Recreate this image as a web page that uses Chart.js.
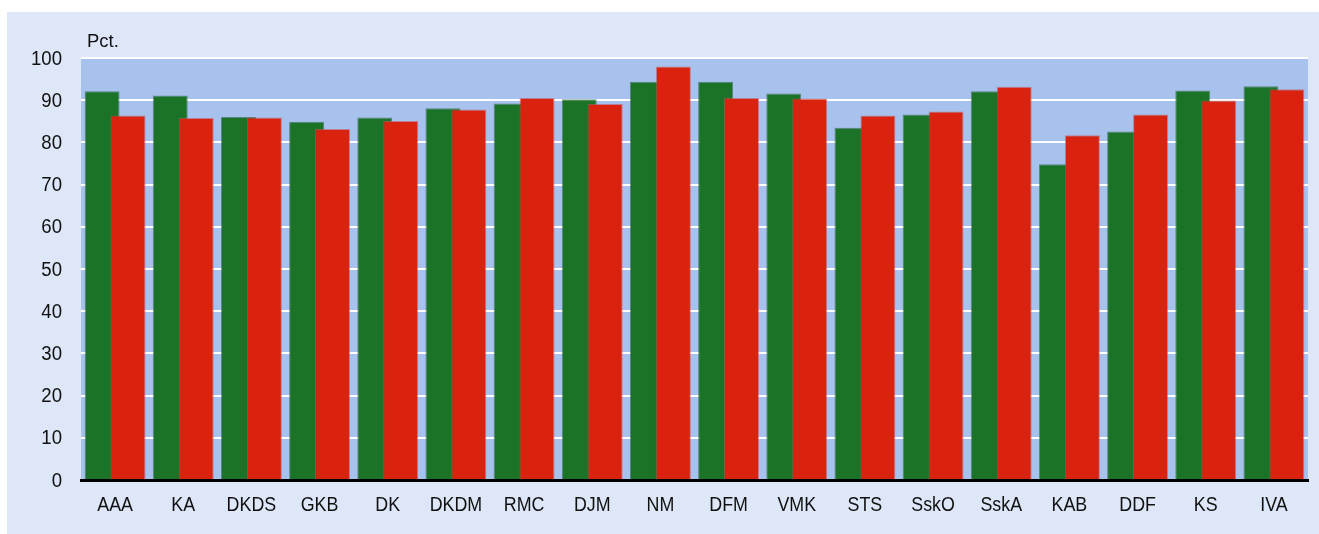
<!DOCTYPE html>
<html>
<head>
<meta charset="utf-8">
<script src="https://cdn.jsdelivr.net/npm/chart.js@4/dist/chart.umd.min.js"></script>
<style>
  html, body { margin: 0; padding: 0; background: #fff; }
  #wrap { position: relative; width: 1319px; height: 534px; }
</style>
</head>
<body>
<div id="wrap"><canvas id="barChart" width="1319" height="534"></canvas></div>
<script>
const categories = ["AAA", "KA", "DKDS", "GKB", "DK", "DKDM", "RMC", "DJM", "NM",
  "DFM", "VMK", "STS", "SskO", "SskA", "KAB", "DDF", "KS", "IVA"];
const greenValues = [92.1, 91.1, 86.0, 84.9, 85.9, 88.1, 89.2, 90.2, 94.4,
  94.4, 91.6, 83.5, 86.6, 92.1, 74.8, 82.6, 92.3, 93.3];
const redValues = [86.4, 85.8, 85.9, 83.2, 85.1, 87.8, 90.5, 89.1, 98.0,
  90.5, 90.4, 86.4, 87.3, 93.2, 81.7, 86.6, 89.9, 92.6];
const yTicks = [0, 10, 20, 30, 40, 50, 60, 70, 80, 90, 100];
const unitLabel = "Pct.";

const FONT = "'Liberation Sans', Arial, sans-serif";

// baggrund: lys ramme + mørkere plotområde
const backgroundPlugin = {
  id: "backgrounds",
  beforeDraw(chart) {
    const ctx = chart.ctx;
    const a = chart.chartArea;
    ctx.save();
    ctx.fillStyle = "#dee7f8";
    ctx.fillRect(7, 12, chart.width - 7, chart.height - 12);
    ctx.fillStyle = "#a7c2ed";
    ctx.fillRect(a.left, a.top, a.right - a.left, a.bottom - a.top);
    ctx.restore();
  },
};

// rød serie skal ligge oven på den grønne
const redOnTopPlugin = {
  id: "redOnTop",
  beforeDatasetDraw(chart, args) {
    if (args.index === 1) return false;
  },
  afterDatasetsDraw(chart) {
    const meta = chart.getDatasetMeta(1);
    if (meta.visible) meta.controller.draw();
  },
};

// smalle akseetiketter (tegnet med vandret skalering)
function narrowText(ctx, text, x, y, sx) {
  ctx.save();
  ctx.translate(x, y);
  ctx.scale(sx, 1);
  ctx.fillText(text, 0, 0);
  ctx.restore();
}

const labelPlugin = {
  id: "axisLabels",
  afterDraw(chart) {
    const ctx = chart.ctx;
    const xs = chart.scales.x;
    const ys = chart.scales.y;
    ctx.save();
    ctx.fillStyle = "#111";

    ctx.font = "20px " + FONT;
    ctx.textAlign = "right";
    ctx.textBaseline = "middle";
    yTicks.forEach((v) => {
      narrowText(ctx, String(v), 62, ys.getPixelForValue(v) + 1, 0.93);
    });

    ctx.font = "21px " + FONT;
    ctx.textAlign = "center";
    ctx.textBaseline = "alphabetic";
    categories.forEach((c, i) => {
      narrowText(ctx, c, xs.getPixelForValue(i), 511, 0.85);
    });

    ctx.font = "19px " + FONT;
    ctx.textAlign = "left";
    narrowText(ctx, unitLabel, 87, 47, 0.97);
    ctx.restore();
  },
};

const ctx = document.getElementById("barChart").getContext("2d");
new Chart(ctx, {
  type: "bar",
  data: {
    labels: categories,
    datasets: [
      {
        label: "Serie 1",
        data: greenValues,
        backgroundColor: "#1b7327",
        borderColor: "rgba(40,90,60,0.6)",
        borderWidth: 1,
        categoryPercentage: 0.762,
        barPercentage: 1.346,
      },
      {
        label: "Serie 2",
        data: redValues,
        backgroundColor: "#d9230f",
        borderColor: "rgba(200,80,90,0.6)",
        borderWidth: 1,
        categoryPercentage: 0.762,
        barPercentage: 1.346,
      },
    ],
  },
  options: {
    responsive: false,
    animation: false,
    layout: { padding: { top: 58, right: 11, left: 0, bottom: 0 } },
    plugins: {
      legend: { display: false },
      tooltip: { enabled: false },
    },
    scales: {
      x: {
        z: 1,
        grid: { display: false },
        border: { display: true, color: "#000", width: 3 },
        ticks: { display: false },
        afterFit(scale) { scale.height = 54; },
      },
      y: {
        min: 0,
        max: 100,
        afterBuildTicks(scale) {
          scale.ticks = yTicks.map((v) => ({ value: v }));
        },
        grid: { color: "#ffffff", lineWidth: 2, drawTicks: false },
        border: { display: false },
        ticks: { display: false },
        afterFit(scale) { scale.width = 81; },
      },
    },
  },
  plugins: [backgroundPlugin, redOnTopPlugin, labelPlugin],
});
</script>
</body>
</html>
